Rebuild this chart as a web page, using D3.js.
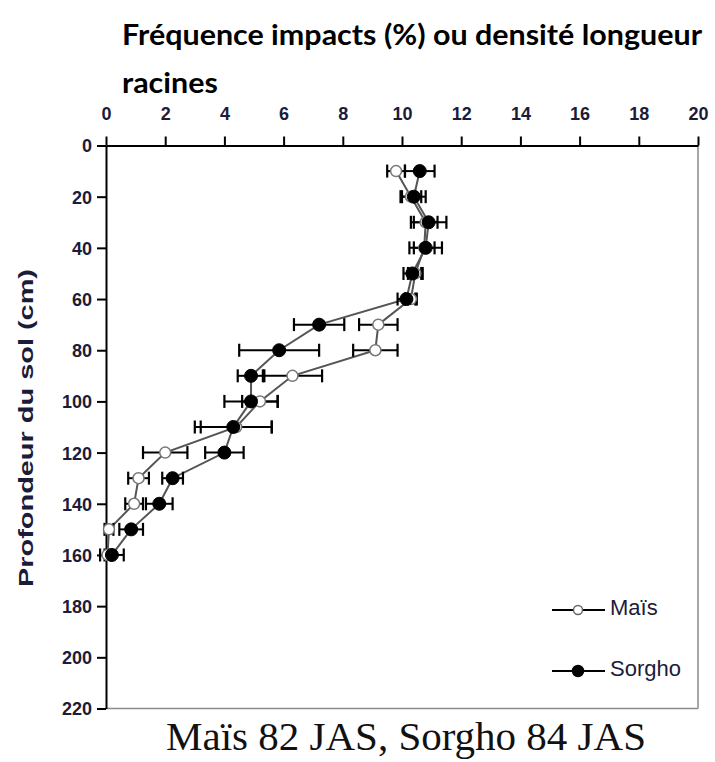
<!DOCTYPE html>
<html>
<head>
<meta charset="utf-8">
<script src="https://cdn.jsdelivr.net/npm/d3@7/dist/d3.min.js"></script>
<style>
  html, body { margin: 0; padding: 0; background: #fff; }
  svg { display: block; }
</style>
</head>
<body>
<svg id="chart" width="715" height="762"></svg>
<script>
// ---------- data ----------
const depths      = [10, 20, 30, 40, 50, 60, 70, 80, 90, 100, 110, 120, 130, 140, 150, 160];
const maisValues  = [9.8, 10.3, 10.8, 10.75, 10.45, 10.3, 9.2, 9.1, 6.3, 5.2, 4.4, 2.0, 1.1, 0.95, 0.1, 0.05];
const maisErrors  = [0.3, 0.35, 0.4, 0.35, 0.25, 0.2, 0.65, 0.75, 1.0, 0.6, 1.2, 0.75, 0.35, 0.3, 0.15, 0.1];
const sorghoValues = [10.6, 10.4, 10.9, 10.8, 10.35, 10.15, 7.2, 5.85, 4.9, 4.9, 4.3, 4.0, 2.25, 1.8, 0.85, 0.2];
const sorghoErrors = [0.5, 0.4, 0.6, 0.55, 0.3, 0.3, 0.85, 1.35, 0.45, 0.9, 1.3, 0.65, 0.35, 0.45, 0.4, 0.4];
const xTicks = [0, 2, 4, 6, 8, 10, 12, 14, 16, 18, 20];
const yTicks = [0, 20, 40, 60, 80, 100, 120, 140, 160, 180, 200, 220];
const seriesNames = ["Maïs", "Sorgho"];
const titleLines = ["Fréquence impacts (%) ou densité longueur", "racines"];
const yTitle = "Profondeur du sol (cm)";
const caption = "Maïs 82 JAS, Sorgho 84 JAS";

(function () {
// ---------- layout ----------
const svg = d3.select("#chart");
const pLeft = 106, pRight = 698, pTop = 145.5, pBottom = 708.5;
const x = d3.scaleLinear().domain([0, 20]).range([pLeft, pRight]);
const y = d3.scaleLinear().domain([0, 220]).range([pTop, pBottom]);
const tickColor = "#1b1b3a";

// title
const tg = svg.append("g").attr("class", "title");
tg.selectAll("text").data(titleLines).join("text")
  .attr("x", 0).attr("y", (d, i) => i * 48)
  .attr("font-family", "Lato, 'Open Sans', sans-serif")
  .attr("font-weight", "bold").attr("font-size", 28).attr("fill", "#000")
  .text(d => d);
const natural = tg.select("text").node().getComputedTextLength();
tg.attr("transform", `translate(122,45) scale(${580 / natural},1)`);

// frame (right & bottom, gray)
svg.append("line").attr("x1", pRight).attr("x2", pRight).attr("y1", pTop).attr("y2", pBottom)
  .attr("stroke", "#8a8a8a").attr("stroke-width", 1.5);
svg.append("line").attr("x1", pLeft).attr("x2", pRight).attr("y1", pBottom).attr("y2", pBottom)
  .attr("stroke", "#8a8a8a").attr("stroke-width", 1.5);

// axes
const xAxis = svg.append("g").attr("transform", `translate(0,${pTop})`)
  .call(d3.axisTop(x).tickValues(xTicks).tickSize(9).tickSizeOuter(0).tickPadding(17).tickFormat(d3.format("d")));
const yAxis = svg.append("g").attr("transform", `translate(${pLeft},0)`)
  .call(d3.axisLeft(y).tickValues(yTicks).tickSize(9).tickSizeOuter(0).tickPadding(5).tickFormat(d3.format("d")));
[xAxis, yAxis].forEach(g => {
  g.selectAll("path.domain").attr("stroke", "#000").attr("stroke-width", 2);
  g.selectAll(".tick line").attr("stroke", "#000").attr("stroke-width", 2);
  g.selectAll(".tick text").attr("fill", tickColor)
    .attr("font-family", "'Liberation Sans', Arial, sans-serif")
    .attr("font-weight", "bold").attr("font-size", 18);
});
yAxis.selectAll(".tick text").attr("dy", "0.36em");

// y title
svg.append("text")
  .attr("transform", "translate(33,428) rotate(-90)")
  .attr("text-anchor", "middle")
  .attr("font-family", "'Liberation Sans', Arial, sans-serif")
  .attr("font-weight", "bold").attr("font-size", 21).attr("fill", tickColor)
  .attr("textLength", 318).attr("lengthAdjust", "spacingAndGlyphs")
  .text(yTitle);

// data series
const series = [
  { name: seriesNames[0], values: maisValues, errors: maisErrors, filled: false },
  { name: seriesNames[1], values: sorghoValues, errors: sorghoErrors, filled: true }
];
const line = d3.line().x(d => x(d.v)).y(d => y(d.d));

series.forEach(s => {
  const pts = depths.map((d, i) => ({ d, v: s.values[i], e: s.errors[i] }));
  const g = svg.append("g");
  g.append("path").datum(pts).attr("d", line)
    .attr("fill", "none").attr("stroke", "#555").attr("stroke-width", 2);
  const eb = g.selectAll("g.eb").data(pts).join("g").attr("class", "eb");
  eb.append("line")
    .attr("x1", p => x(p.v - p.e)).attr("x2", p => x(p.v + p.e))
    .attr("y1", p => y(p.d)).attr("y2", p => y(p.d))
    .attr("stroke", "#000").attr("stroke-width", 2);
  [-1, 1].forEach(sg => {
    eb.append("line")
      .attr("x1", p => x(p.v + sg * p.e)).attr("x2", p => x(p.v + sg * p.e))
      .attr("y1", p => y(p.d) - 6.5).attr("y2", p => y(p.d) + 6.5)
      .attr("stroke", "#000").attr("stroke-width", 2.2);
  });
  s.pts = pts;
});
series.forEach(s => {
  svg.append("g").selectAll("circle").data(s.pts).join("circle")
    .attr("cx", p => x(p.v)).attr("cy", p => y(p.d))
    .attr("r", s.filled ? 6.5 : 5.5)
    .attr("fill", s.filled ? "#000" : "#fff")
    .attr("stroke", s.filled ? "#000" : "#777")
    .attr("stroke-width", s.filled ? 1 : 1.5);
});

// legend
const legY = [610, 671];
series.forEach((s, i) => {
  const g = svg.append("g");
  g.append("line").attr("x1", 552).attr("x2", 605).attr("y1", legY[i]).attr("y2", legY[i])
    .attr("stroke", "#000").attr("stroke-width", 2);
  g.append("circle").attr("cx", 578).attr("cy", legY[i]).attr("r", s.filled ? 5.5 : 4.5)
    .attr("fill", s.filled ? "#000" : "#fff").attr("stroke", s.filled ? "#000" : "#666").attr("stroke-width", 1.5);
  g.append("text").attr("x", 610).attr("y", legY[i] - 3).attr("dy", "0.36em")
    .attr("font-family", "'Liberation Sans', Arial, sans-serif")
    .attr("font-size", 22).attr("fill", tickColor)
    .text(s.name);
});

// caption
svg.append("text").attr("x", 406).attr("y", 750).attr("text-anchor", "middle")
  .attr("font-family", "'Liberation Serif', 'Times New Roman', serif")
  .attr("font-size", 41).attr("fill", "#111")
  .text(caption);
})();
</script>
</body>
</html>
